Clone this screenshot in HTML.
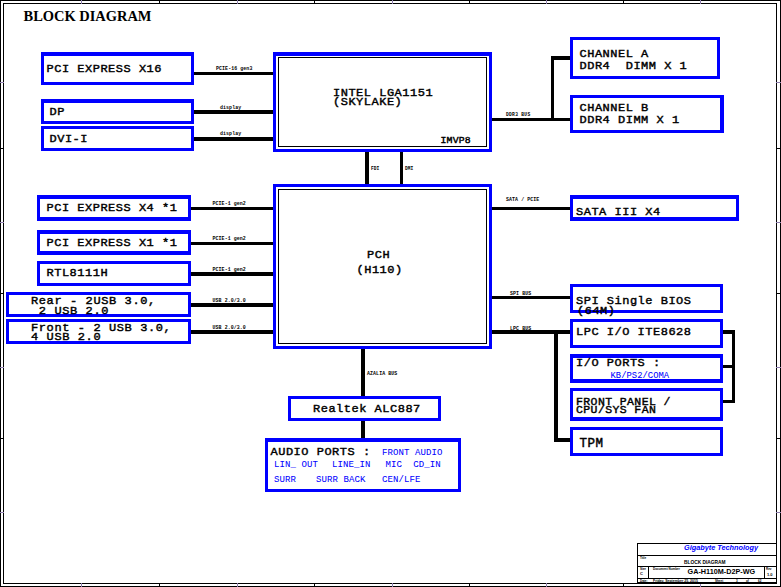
<!DOCTYPE html>
<html><head><meta charset="utf-8"><style>
html,body{margin:0;padding:0;background:#fff;width:781px;height:587px;overflow:hidden}
svg{display:block}
</style></head><body>
<svg width="781" height="587" viewBox="0 0 781 587" shape-rendering="crispEdges">
<rect x="0" y="0" width="781" height="587" fill="#fff"/>
<rect x="0" y="0" width="781" height="1" fill="#000"/>
<rect x="0" y="586" width="781" height="1" fill="#000"/>
<rect x="0" y="0" width="1" height="587" fill="#000"/>
<rect x="780" y="0" width="1" height="587" fill="#000"/>
<rect x="3" y="3" width="774" height="1" fill="#000"/>
<rect x="3" y="583" width="774" height="1" fill="#000"/>
<rect x="3" y="3" width="1" height="581" fill="#000"/>
<rect x="776" y="3" width="1" height="581" fill="#000"/>
<rect x="81" y="0" width="1" height="4" fill="#9080b0"/>
<rect x="81" y="583" width="1" height="4" fill="#9080b0"/>
<rect x="159" y="0" width="1" height="4" fill="#000"/>
<rect x="159" y="583" width="1" height="4" fill="#000"/>
<rect x="237" y="0" width="1" height="4" fill="#9080b0"/>
<rect x="237" y="583" width="1" height="4" fill="#9080b0"/>
<rect x="314" y="0" width="1" height="4" fill="#000"/>
<rect x="314" y="583" width="1" height="4" fill="#000"/>
<rect x="392" y="0" width="1" height="4" fill="#9080b0"/>
<rect x="392" y="583" width="1" height="4" fill="#9080b0"/>
<rect x="469" y="0" width="1" height="4" fill="#000"/>
<rect x="469" y="583" width="1" height="4" fill="#000"/>
<rect x="546" y="0" width="1" height="4" fill="#9080b0"/>
<rect x="546" y="583" width="1" height="4" fill="#9080b0"/>
<rect x="623" y="0" width="1" height="4" fill="#000"/>
<rect x="623" y="583" width="1" height="4" fill="#000"/>
<rect x="700" y="0" width="1" height="4" fill="#9080b0"/>
<rect x="700" y="583" width="1" height="4" fill="#9080b0"/>
<rect x="0" y="82" width="4" height="1" fill="#9080b0"/>
<rect x="776" y="82" width="5" height="1" fill="#9080b0"/>
<rect x="0" y="148" width="4" height="1" fill="#000"/>
<rect x="776" y="148" width="5" height="1" fill="#000"/>
<rect x="0" y="222" width="4" height="1" fill="#9080b0"/>
<rect x="776" y="222" width="5" height="1" fill="#9080b0"/>
<rect x="0" y="293" width="4" height="1" fill="#000"/>
<rect x="776" y="293" width="5" height="1" fill="#000"/>
<rect x="0" y="367" width="4" height="1" fill="#9080b0"/>
<rect x="776" y="367" width="5" height="1" fill="#9080b0"/>
<rect x="0" y="438" width="4" height="1" fill="#000"/>
<rect x="776" y="438" width="5" height="1" fill="#000"/>
<rect x="0" y="512" width="4" height="1" fill="#9080b0"/>
<rect x="776" y="512" width="5" height="1" fill="#9080b0"/>
<text x="23.5" y="21" font-family="Liberation Serif" font-size="14.4" font-weight="bold" fill="#000" textLength="128" lengthAdjust="spacingAndGlyphs" xml:space="preserve">BLOCK DIAGRAM</text>
<rect x="41" y="52" width="153" height="4" fill="#0000ff"/>
<rect x="41" y="82" width="153" height="3" fill="#0000ff"/>
<rect x="41" y="52" width="3" height="33" fill="#0000ff"/>
<rect x="191" y="52" width="3" height="33" fill="#0000ff"/>
<text transform="translate(46.5,72) scale(1,0.91)" x="0" y="0" font-family="Liberation Mono" font-size="12" letter-spacing="0.5" fill="#000" stroke="#000" stroke-width="0.45" xml:space="preserve">PCI EXPRESS X16</text>
<rect x="41" y="99" width="153" height="4" fill="#0000ff"/>
<rect x="41" y="121" width="153" height="3" fill="#0000ff"/>
<rect x="41" y="99" width="3" height="25" fill="#0000ff"/>
<rect x="191" y="99" width="3" height="25" fill="#0000ff"/>
<text transform="translate(49.5,115) scale(1,0.91)" x="0" y="0" font-family="Liberation Mono" font-size="12" letter-spacing="0.5" fill="#000" stroke="#000" stroke-width="0.45" xml:space="preserve">DP</text>
<rect x="41" y="126" width="153" height="3" fill="#0000ff"/>
<rect x="41" y="148" width="153" height="3" fill="#0000ff"/>
<rect x="41" y="126" width="3" height="25" fill="#0000ff"/>
<rect x="191" y="126" width="3" height="25" fill="#0000ff"/>
<text transform="translate(49.5,142) scale(1,0.91)" x="0" y="0" font-family="Liberation Mono" font-size="12" letter-spacing="0.5" fill="#000" stroke="#000" stroke-width="0.45" xml:space="preserve">DVI-I</text>
<rect x="194" y="72" width="79" height="3" fill="#000"/>
<text x="216" y="70" font-family="Liberation Mono" font-weight="bold" font-size="4.9" letter-spacing="0.1" fill="#000" xml:space="preserve">PCIE-16 gen3</text>
<rect x="194" y="110" width="79" height="4" fill="#000"/>
<text x="220" y="109" font-family="Liberation Mono" font-weight="bold" font-size="4.9" letter-spacing="0.1" fill="#000" xml:space="preserve">display</text>
<rect x="194" y="137" width="79" height="4" fill="#000"/>
<text x="220" y="135" font-family="Liberation Mono" font-weight="bold" font-size="4.9" letter-spacing="0.1" fill="#000" xml:space="preserve">display</text>
<rect x="273" y="52" width="219" height="4" fill="#0000ff"/>
<rect x="273" y="149" width="219" height="3" fill="#0000ff"/>
<rect x="273" y="52" width="3" height="100" fill="#0000ff"/>
<rect x="489" y="52" width="3" height="100" fill="#0000ff"/>
<rect x="278" y="57" width="208" height="1" fill="#000"/>
<rect x="278" y="146" width="209" height="1" fill="#000"/>
<rect x="278" y="57" width="1" height="90" fill="#000"/>
<rect x="486" y="57" width="1" height="90" fill="#000"/>
<text transform="translate(333,96) scale(1,0.91)" x="0" y="0" font-family="Liberation Mono" font-size="12" letter-spacing="0.5" fill="#000" stroke="#000" stroke-width="0.45" xml:space="preserve">INTEL LGA1151</text>
<text transform="translate(333,105) scale(1,0.91)" x="0" y="0" font-family="Liberation Mono" font-size="12" letter-spacing="0.5" fill="#000" stroke="#000" stroke-width="0.45" xml:space="preserve">(SKYLAKE)</text>
<text transform="translate(440.5,143) scale(1,0.91)" x="0" y="0" font-family="Liberation Mono" font-size="9.8" letter-spacing="0.2" fill="#000" stroke="#000" stroke-width="0.45" xml:space="preserve">IMVP8</text>
<rect x="365" y="152" width="4" height="32" fill="#000"/>
<text x="371" y="170" font-family="Liberation Mono" font-weight="bold" font-size="4.5" letter-spacing="0.1" fill="#000" xml:space="preserve">FDI</text>
<rect x="400" y="152" width="3" height="32" fill="#000"/>
<text x="405" y="170" font-family="Liberation Mono" font-weight="bold" font-size="4.5" letter-spacing="0.1" fill="#000" xml:space="preserve">DMI</text>
<rect x="492" y="118" width="78" height="3" fill="#000"/>
<text x="506" y="116" font-family="Liberation Mono" font-weight="bold" font-size="4.6" letter-spacing="0.3" fill="#000" xml:space="preserve">DDR3 BUS</text>
<rect x="551" y="56" width="3" height="65" fill="#000"/>
<rect x="551" y="56" width="19" height="4" fill="#000"/>
<rect x="570" y="37" width="150" height="3" fill="#0000ff"/>
<rect x="570" y="76" width="150" height="3" fill="#0000ff"/>
<rect x="570" y="37" width="3" height="42" fill="#0000ff"/>
<rect x="717" y="37" width="3" height="42" fill="#0000ff"/>
<text transform="translate(579.5,57) scale(1,0.91)" x="0" y="0" font-family="Liberation Mono" font-size="12" letter-spacing="0.5" fill="#000" stroke="#000" stroke-width="0.45" xml:space="preserve">CHANNEL A</text>
<text transform="translate(579.5,69) scale(1,0.91)" x="0" y="0" font-family="Liberation Mono" font-size="12" letter-spacing="0.5" fill="#000" stroke="#000" stroke-width="0.45" xml:space="preserve">DDR4  DIMM X 1</text>
<rect x="570" y="95" width="154" height="3" fill="#0000ff"/>
<rect x="570" y="130" width="154" height="3" fill="#0000ff"/>
<rect x="570" y="95" width="3" height="38" fill="#0000ff"/>
<rect x="720" y="95" width="4" height="38" fill="#0000ff"/>
<text transform="translate(579.5,111) scale(1,0.91)" x="0" y="0" font-family="Liberation Mono" font-size="12" letter-spacing="0.5" fill="#000" stroke="#000" stroke-width="0.45" xml:space="preserve">CHANNEL B</text>
<text transform="translate(579.5,123) scale(1,0.91)" x="0" y="0" font-family="Liberation Mono" font-size="12" letter-spacing="0.5" fill="#000" stroke="#000" stroke-width="0.45" xml:space="preserve">DDR4 DIMM X 1</text>
<rect x="37" y="195" width="154" height="4" fill="#0000ff"/>
<rect x="37" y="217" width="154" height="4" fill="#0000ff"/>
<rect x="37" y="195" width="3" height="26" fill="#0000ff"/>
<rect x="188" y="195" width="3" height="26" fill="#0000ff"/>
<text transform="translate(46.5,211) scale(1,0.91)" x="0" y="0" font-family="Liberation Mono" font-size="12" letter-spacing="0.5" fill="#000" stroke="#000" stroke-width="0.45" xml:space="preserve">PCI EXPRESS X4 *1</text>
<rect x="37" y="230" width="154" height="4" fill="#0000ff"/>
<rect x="37" y="251" width="154" height="4" fill="#0000ff"/>
<rect x="37" y="230" width="3" height="25" fill="#0000ff"/>
<rect x="188" y="230" width="3" height="25" fill="#0000ff"/>
<text transform="translate(46.5,246) scale(1,0.91)" x="0" y="0" font-family="Liberation Mono" font-size="12" letter-spacing="0.5" fill="#000" stroke="#000" stroke-width="0.45" xml:space="preserve">PCI EXPRESS X1 *1</text>
<rect x="37" y="261" width="154" height="3" fill="#0000ff"/>
<rect x="37" y="283" width="154" height="3" fill="#0000ff"/>
<rect x="37" y="261" width="3" height="25" fill="#0000ff"/>
<rect x="188" y="261" width="3" height="25" fill="#0000ff"/>
<text transform="translate(46.5,276) scale(1,0.91)" x="0" y="0" font-family="Liberation Mono" font-size="12" letter-spacing="0.5" fill="#000" stroke="#000" stroke-width="0.45" xml:space="preserve">RTL8111H</text>
<rect x="6" y="292" width="185" height="3" fill="#0000ff"/>
<rect x="6" y="314" width="185" height="3" fill="#0000ff"/>
<rect x="6" y="292" width="3" height="25" fill="#0000ff"/>
<rect x="188" y="292" width="3" height="25" fill="#0000ff"/>
<text transform="translate(31,304) scale(1,0.91)" x="0" y="0" font-family="Liberation Mono" font-size="12" letter-spacing="0.6" fill="#000" stroke="#000" stroke-width="0.45" xml:space="preserve">Rear - 2USB 3.0,</text>
<text transform="translate(31,313.5) scale(1,0.91)" x="0" y="0" font-family="Liberation Mono" font-size="12" letter-spacing="0.6" fill="#000" stroke="#000" stroke-width="0.45" xml:space="preserve"> 2 USB 2.0</text>
<rect x="6" y="319" width="185" height="3" fill="#0000ff"/>
<rect x="6" y="341" width="185" height="3" fill="#0000ff"/>
<rect x="6" y="319" width="3" height="25" fill="#0000ff"/>
<rect x="188" y="319" width="3" height="25" fill="#0000ff"/>
<text transform="translate(31,330.5) scale(1,0.91)" x="0" y="0" font-family="Liberation Mono" font-size="12" letter-spacing="0.6" fill="#000" stroke="#000" stroke-width="0.45" xml:space="preserve">Front - 2 USB 3.0,</text>
<text transform="translate(31,340) scale(1,0.91)" x="0" y="0" font-family="Liberation Mono" font-size="12" letter-spacing="0.6" fill="#000" stroke="#000" stroke-width="0.45" xml:space="preserve">4 USB 2.0</text>
<rect x="191" y="207" width="82" height="3" fill="#000"/>
<text x="212.5" y="205.1" font-family="Liberation Mono" font-weight="bold" font-size="4.9" letter-spacing="0.1" fill="#000" xml:space="preserve">PCIE-1 gen2</text>
<rect x="191" y="242" width="82" height="3" fill="#000"/>
<text x="212.5" y="240.1" font-family="Liberation Mono" font-weight="bold" font-size="4.9" letter-spacing="0.1" fill="#000" xml:space="preserve">PCIE-1 gen2</text>
<rect x="191" y="272" width="82" height="4" fill="#000"/>
<text x="212.5" y="271.1" font-family="Liberation Mono" font-weight="bold" font-size="4.9" letter-spacing="0.1" fill="#000" xml:space="preserve">PCIE-1 gen2</text>
<rect x="191" y="303" width="82" height="4" fill="#000"/>
<text x="212.5" y="302.1" font-family="Liberation Mono" font-weight="bold" font-size="4.9" letter-spacing="0.1" fill="#000" xml:space="preserve">USB 2.0/3.0</text>
<rect x="191" y="330" width="82" height="4" fill="#000"/>
<text x="212.5" y="329.1" font-family="Liberation Mono" font-weight="bold" font-size="4.9" letter-spacing="0.1" fill="#000" xml:space="preserve">USB 2.0/3.0</text>
<rect x="273" y="184" width="219" height="3" fill="#0000ff"/>
<rect x="273" y="346" width="219" height="3" fill="#0000ff"/>
<rect x="273" y="184" width="3" height="165" fill="#0000ff"/>
<rect x="489" y="184" width="3" height="165" fill="#0000ff"/>
<rect x="278" y="189" width="208" height="1" fill="#000"/>
<rect x="278" y="343" width="209" height="1" fill="#000"/>
<rect x="278" y="189" width="1" height="155" fill="#000"/>
<rect x="486" y="189" width="1" height="155" fill="#000"/>
<text transform="translate(367,258) scale(1,0.91)" x="0" y="0" font-family="Liberation Mono" font-size="12" letter-spacing="0.5" fill="#000" stroke="#000" stroke-width="0.45" xml:space="preserve">PCH</text>
<text transform="translate(356.5,272.5) scale(1,0.91)" x="0" y="0" font-family="Liberation Mono" font-size="12" letter-spacing="0.5" fill="#000" stroke="#000" stroke-width="0.45" xml:space="preserve">(H110)</text>
<rect x="492" y="207" width="78" height="3" fill="#000"/>
<text x="506" y="201" font-family="Liberation Mono" font-weight="bold" font-size="4.9" letter-spacing="0.1" fill="#000" xml:space="preserve">SATA / PCIE</text>
<rect x="570" y="195" width="169" height="4" fill="#0000ff"/>
<rect x="570" y="217" width="169" height="4" fill="#0000ff"/>
<rect x="570" y="195" width="3" height="26" fill="#0000ff"/>
<rect x="736" y="195" width="3" height="26" fill="#0000ff"/>
<text transform="translate(576,215) scale(1,0.91)" x="0" y="0" font-family="Liberation Mono" font-size="12" letter-spacing="0.5" fill="#000" stroke="#000" stroke-width="0.45" xml:space="preserve">SATA III X4</text>
<rect x="492" y="296" width="78" height="3" fill="#000"/>
<text x="510" y="294.5" font-family="Liberation Mono" font-weight="bold" font-size="4.9" letter-spacing="0.1" fill="#000" xml:space="preserve">SPI BUS</text>
<rect x="570" y="284" width="153" height="3" fill="#0000ff"/>
<rect x="570" y="310" width="153" height="3" fill="#0000ff"/>
<rect x="570" y="284" width="3" height="29" fill="#0000ff"/>
<rect x="720" y="284" width="3" height="29" fill="#0000ff"/>
<text transform="translate(576,304) scale(1,0.91)" x="0" y="0" font-family="Liberation Mono" font-size="12" letter-spacing="0.5" fill="#000" stroke="#000" stroke-width="0.45" xml:space="preserve">SPI Single BIOS</text>
<text transform="translate(577,313.5) scale(1,0.91)" x="0" y="0" font-family="Liberation Mono" font-size="12" letter-spacing="0.5" fill="#000" stroke="#000" stroke-width="0.45" xml:space="preserve">(64M)</text>
<rect x="492" y="330" width="78" height="4" fill="#000"/>
<text x="510" y="329.5" font-family="Liberation Mono" font-weight="bold" font-size="4.9" letter-spacing="0.1" fill="#000" xml:space="preserve">LPC BUS</text>
<rect x="570" y="319" width="153" height="3" fill="#0000ff"/>
<rect x="570" y="345" width="153" height="3" fill="#0000ff"/>
<rect x="570" y="319" width="3" height="29" fill="#0000ff"/>
<rect x="720" y="319" width="3" height="29" fill="#0000ff"/>
<text transform="translate(576,334.8) scale(1,0.91)" x="0" y="0" font-family="Liberation Mono" font-size="12" letter-spacing="0.5" fill="#000" stroke="#000" stroke-width="0.45" xml:space="preserve">LPC I/O ITE8628</text>
<rect x="570" y="354" width="153" height="4" fill="#0000ff"/>
<rect x="570" y="379" width="153" height="4" fill="#0000ff"/>
<rect x="570" y="354" width="3" height="29" fill="#0000ff"/>
<rect x="720" y="354" width="3" height="29" fill="#0000ff"/>
<text transform="translate(576,366) scale(1,0.91)" x="0" y="0" font-family="Liberation Mono" font-size="12" letter-spacing="0.5" fill="#000" stroke="#000" stroke-width="0.45" xml:space="preserve">I/O PORTS :</text>
<text transform="translate(610.5,377.7) scale(1,1)" x="0" y="0" font-family="Liberation Mono" font-size="8.8" letter-spacing="0.05" fill="#0000ff" stroke="#0000ff" stroke-width="0.05" xml:space="preserve">KB/PS2/COMA</text>
<rect x="570" y="388" width="153" height="3" fill="#0000ff"/>
<rect x="570" y="417" width="153" height="4" fill="#0000ff"/>
<rect x="570" y="388" width="3" height="33" fill="#0000ff"/>
<rect x="720" y="388" width="3" height="33" fill="#0000ff"/>
<text transform="translate(576,404.5) scale(1,0.91)" x="0" y="0" font-family="Liberation Mono" font-size="11.5" letter-spacing="0.4" fill="#000" stroke="#000" stroke-width="0.45" xml:space="preserve">FRONT PANEL /</text>
<text transform="translate(576,413) scale(1,0.91)" x="0" y="0" font-family="Liberation Mono" font-size="11.5" letter-spacing="0.4" fill="#000" stroke="#000" stroke-width="0.45" xml:space="preserve">CPU/SYS FAN</text>
<rect x="570" y="427" width="153" height="3" fill="#0000ff"/>
<rect x="570" y="453" width="153" height="3" fill="#0000ff"/>
<rect x="570" y="427" width="3" height="29" fill="#0000ff"/>
<rect x="720" y="427" width="3" height="29" fill="#0000ff"/>
<text transform="translate(579.5,447) scale(1,0.97)" x="0" y="0" font-family="Liberation Mono" font-size="12.5" letter-spacing="0.5" fill="#000" stroke="#000" stroke-width="0.45" xml:space="preserve">TPM</text>
<rect x="554" y="330" width="4" height="112" fill="#000"/>
<rect x="554" y="438" width="16" height="4" fill="#000"/>
<rect x="732" y="330" width="3" height="73" fill="#000"/>
<rect x="723" y="330" width="12" height="4" fill="#000"/>
<rect x="723" y="365" width="12" height="3" fill="#000"/>
<rect x="723" y="400" width="12" height="3" fill="#000"/>
<rect x="361" y="349" width="4" height="47" fill="#000"/>
<text x="367" y="375" font-family="Liberation Mono" font-weight="bold" font-size="4.9" letter-spacing="0.1" fill="#000" xml:space="preserve">AZALIA BUS</text>
<rect x="288" y="396" width="153" height="3" fill="#0000ff"/>
<rect x="288" y="418" width="153" height="3" fill="#0000ff"/>
<rect x="288" y="396" width="3" height="25" fill="#0000ff"/>
<rect x="438" y="396" width="3" height="25" fill="#0000ff"/>
<text transform="translate(313,412) scale(1,0.91)" x="0" y="0" font-family="Liberation Mono" font-size="12" letter-spacing="0.5" fill="#000" stroke="#000" stroke-width="0.45" xml:space="preserve">Realtek ALC887</text>
<rect x="361" y="421" width="4" height="17" fill="#000"/>
<rect x="265" y="438" width="196" height="4" fill="#0000ff"/>
<rect x="265" y="489" width="196" height="3" fill="#0000ff"/>
<rect x="265" y="438" width="3" height="54" fill="#0000ff"/>
<rect x="458" y="438" width="3" height="54" fill="#0000ff"/>
<text transform="translate(270.5,455) scale(1,0.91)" x="0" y="0" font-family="Liberation Mono" font-size="12" letter-spacing="0.5" fill="#000" stroke="#000" stroke-width="0.45" xml:space="preserve">AUDIO PORTS :</text>
<text transform="translate(382,455) scale(1,1)" x="0" y="0" font-family="Liberation Mono" font-size="9" letter-spacing="0.1" fill="#0000ff" stroke="#0000ff" stroke-width="0.05" xml:space="preserve">FRONT AUDIO</text>
<text transform="translate(274,467) scale(1,1)" x="0" y="0" font-family="Liberation Mono" font-size="9" letter-spacing="0.1" fill="#0000ff" stroke="#0000ff" stroke-width="0.05" xml:space="preserve">LIN_ OUT</text>
<text transform="translate(332,467) scale(1,1)" x="0" y="0" font-family="Liberation Mono" font-size="9" letter-spacing="0.1" fill="#0000ff" stroke="#0000ff" stroke-width="0.05" xml:space="preserve">LINE_IN</text>
<text transform="translate(385.5,467) scale(1,1)" x="0" y="0" font-family="Liberation Mono" font-size="9" letter-spacing="0.1" fill="#0000ff" stroke="#0000ff" stroke-width="0.05" xml:space="preserve">MIC</text>
<text transform="translate(413.2,467) scale(1,1)" x="0" y="0" font-family="Liberation Mono" font-size="9" letter-spacing="0.1" fill="#0000ff" stroke="#0000ff" stroke-width="0.05" xml:space="preserve">CD_IN</text>
<text transform="translate(274,481.5) scale(1,1)" x="0" y="0" font-family="Liberation Mono" font-size="9" letter-spacing="0.1" fill="#0000ff" stroke="#0000ff" stroke-width="0.05" xml:space="preserve">SURR</text>
<text transform="translate(316,481.5) scale(1,1)" x="0" y="0" font-family="Liberation Mono" font-size="9" letter-spacing="0.1" fill="#0000ff" stroke="#0000ff" stroke-width="0.05" xml:space="preserve">SURR BACK</text>
<text transform="translate(382,481.5) scale(1,1)" x="0" y="0" font-family="Liberation Mono" font-size="9" letter-spacing="0.1" fill="#0000ff" stroke="#0000ff" stroke-width="0.05" xml:space="preserve">CEN/LFE</text>
<rect x="637" y="543" width="140" height="1" fill="#000"/>
<rect x="637" y="583" width="140" height="1" fill="#000"/>
<rect x="637" y="543" width="1" height="41" fill="#000"/>
<rect x="776" y="543" width="1" height="41" fill="#000"/>
<rect x="637" y="555" width="140" height="1" fill="#000"/>
<rect x="637" y="566" width="140" height="1" fill="#000"/>
<rect x="637" y="578" width="140" height="1" fill="#000"/>
<rect x="637" y="582" width="140" height="1" fill="#000"/>
<rect x="648" y="566" width="1" height="12" fill="#000"/>
<rect x="764" y="566" width="1" height="12" fill="#000"/>
<text x="684" y="549.5" font-family="Liberation Sans" font-size="7.6" font-weight="bold" fill="#0000ff" font-style="italic" textLength="74" lengthAdjust="spacingAndGlyphs" xml:space="preserve">Gigabyte Technology</text>
<text x="684" y="563.7" font-family="Liberation Sans" font-size="5" font-weight="bold" fill="#000" textLength="41.5" lengthAdjust="spacingAndGlyphs" xml:space="preserve">BLOCK DIAGRAM</text>
<text x="687.5" y="574.3" font-family="Liberation Sans" font-size="7.9" font-weight="bold" fill="#000" textLength="67.7" lengthAdjust="spacingAndGlyphs" xml:space="preserve">GA-H110M-D2P-WG</text>
<text x="640" y="559" font-family="Liberation Sans" font-size="3" font-weight="bold" fill="#000"  xml:space="preserve">Title</text>
<text x="640" y="570" font-family="Liberation Sans" font-size="3" font-weight="bold" fill="#000"  xml:space="preserve">Size</text>
<text x="640" y="575" font-family="Liberation Sans" font-size="4" font-weight="bold" fill="#000"  xml:space="preserve">C</text>
<text x="653" y="570" font-family="Liberation Sans" font-size="3" font-weight="bold" fill="#000"  xml:space="preserve">Document Number</text>
<text x="766" y="570" font-family="Liberation Sans" font-size="3" font-weight="bold" fill="#000"  xml:space="preserve">Rev</text>
<text x="767" y="576" font-family="Liberation Sans" font-size="4" font-weight="bold" fill="#000"  xml:space="preserve">1.0</text>
<text x="640" y="582" font-family="Liberation Sans" font-size="3" font-weight="bold" fill="#000"  xml:space="preserve">Date:</text>
<text x="653" y="582" font-family="Liberation Sans" font-size="3.5" font-weight="bold" fill="#000"  xml:space="preserve">Friday, September 25, 2015</text>
<text x="715" y="582" font-family="Liberation Sans" font-size="3" font-weight="bold" fill="#000"  xml:space="preserve">Sheet</text>
<text x="736" y="582" font-family="Liberation Sans" font-size="3" font-weight="bold" fill="#000"  xml:space="preserve">3</text>
<text x="746" y="582" font-family="Liberation Sans" font-size="3" font-weight="bold" fill="#000"  xml:space="preserve">of</text>
<text x="758" y="582" font-family="Liberation Sans" font-size="3" font-weight="bold" fill="#000"  xml:space="preserve">62</text>
</svg>
</body></html>
